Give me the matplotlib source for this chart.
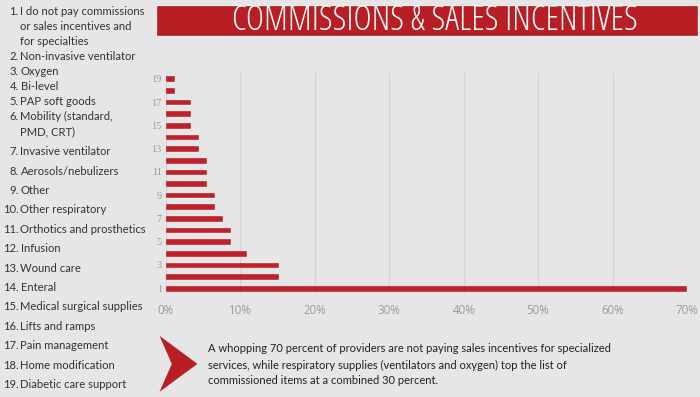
import matplotlib
matplotlib.use("Agg")
import matplotlib.pyplot as plt
from matplotlib.patches import Rectangle, Polygon
import matplotlib.patheffects as pe
from matplotlib import font_manager

# ---------------- data ----------------
title = "COMMISSIONS & SALES INCENTIVES"
items = [
    "I do not pay commissions\nor sales incentives and\nfor specialties",
    "Non-invasive ventilator",
    "Oxygen",
    "Bi-level",
    "PAP soft goods",
    "Mobility (standard,\nPMD, CRT)",
    "Invasive ventilator",
    "Aerosols/nebulizers",
    "Other",
    "Other respiratory",
    "Orthotics and prosthetics",
    "Infusion",
    "Wound care",
    "Enteral",
    "Medical surgical supplies",
    "Lifts and ramps",
    "Pain management",
    "Home modification",
    "Diabetic care support",
]
ranks = list(range(1, 20))
values = [69.9, 15.1, 15.1, 10.8, 8.6, 8.6, 7.5, 6.5, 6.5, 5.4,
          5.4, 5.4, 4.3, 4.3, 3.2, 3.2, 3.2, 1.1, 1.1]
ytick_vals = [1, 3, 5, 7, 9, 11, 13, 15, 17, 19]
xtick_vals = [0, 10, 20, 30, 40, 50, 60, 70]
xtick_labels = ["0%", "10%", "20%", "30%", "40%", "50%", "60%", "70%"]
note = ("A whopping 70 percent of providers are not paying sales incentives for specialized\n"
        "services, while respiratory supplies (ventilators and oxygen) top the list of\n"
        "commissioned items at a combined 30 percent.")

# ---------------- layout ----------------
W, H = 700, 397
BG = "#e6e6e6"
RED = "#b81f25"
fig = plt.figure(figsize=(W / 100, H / 100), dpi=100, facecolor=BG)

def fx(x):
    return x / W

def fy(y):
    return 1 - y / H

# pick the lightest condensed sans font (from the known families) for the title
WMAP = {"ultralight": 200, "light": 300, "normal": 400, "regular": 400, "book": 400,
        "medium": 500, "semibold": 600, "demibold": 600, "bold": 700,
        "heavy": 800, "extra bold": 800, "black": 900}
KNOWN = ("Open Sans", "Noto Sans", "Roboto", "DejaVu Sans", "Liberation Sans", "Lato", "Inter")

def wnum(w):
    if isinstance(w, (int, float)):
        return w
    return WMAP.get(str(w).lower(), 400)

cands = []
for f in font_manager.fontManager.ttflist:
    if not f.name.startswith(KNOWN) or "CJK" in f.name or "Mono" in f.name:
        continue
    cond = ("Condensed" in f.name or "Narrow" in f.name or
            f.stretch in ("condensed", "semi-condensed", "extra-condensed"))
    if cond and f.style == "normal":
        w = wnum(f.weight)
        fn = f.fname.lower()
        if "light" in fn and "extralight" not in fn:
            w = min(w, 300)
        if "bold" in fn:
            w = max(w, 700)
        cands.append((abs(w - 300), f.fname))
cands.sort()
title_fname = cands[0][1] if cands else None

# title banner
fig.patches.append(Rectangle((fx(156), fy(35.5)), fx(698) - fx(156), (35.5 - 5) / H,
                             transform=fig.transFigure, facecolor=RED,
                             edgecolor="#f2f2f2", linewidth=0.9, zorder=1))
if title_fname is not None:
    tprops = font_manager.FontProperties(fname=title_fname, size=21)
else:
    tprops = font_manager.FontProperties(family=["Roboto", "DejaVu Sans"],
                                         weight="light", size=18)
t = fig.text(fx(435), fy(20.5), title, ha="center", va="center", color="white",
             fontproperties=tprops, zorder=2)
# fit the title width to the banner text width seen in the reference (~406 px)
fig.canvas.draw()
bb = t.get_window_extent()
t.set_fontsize(t.get_fontsize() * 406 / bb.width)

# chart axes
ax = fig.add_axes([fx(166), fy(294), fx(687) - fx(166), (294 - 73) / H])
ax.set_facecolor(BG)
bars = ax.barh(ranks, values, height=0.4, color="#c0202a", edgecolor="#a8181f",
               linewidth=0.4, zorder=3)
for b in bars:
    b.set_path_effects([pe.SimplePatchShadow(offset=(0.8, -0.8),
                                             shadow_rgbFace="white", alpha=0.9),
                        pe.Normal()])
ax.set_xlim(0, 70)
ax.set_ylim(0.5, 19.5)
ax.set_xticks(xtick_vals)
ax.set_xticklabels(xtick_labels, color="#9a9a9a", fontsize=8.3, family="Open Sans")
ax.set_yticks(ytick_vals)
ax.set_yticklabels([str(v) for v in ytick_vals], color="#9a9a9a", fontsize=7.5,
                   family="Liberation Serif")
ax.tick_params(length=0, pad=3)
ax.tick_params(axis="x", pad=7)
ax.grid(axis="x", color="#d6d6d6", linewidth=1, zorder=0)
ax.set_axisbelow(True)
for s in ax.spines.values():
    s.set_visible(False)

# left legend list
lfont = dict(fontsize=8.1, family=["Lato", "DejaVu Sans"], color="#333333")
y = 11.7
line_h = 15.0
for i, txt in enumerate(items):
    num = f"{ranks[i]}."
    lines = txt.split("\n")
    fig.text(fx(18.5), fy(y), num, ha="right", va="center", **lfont)
    for j, ln in enumerate(lines):
        fig.text(fx(20.5), fy(y + j * line_h), ln, ha="left", va="center", **lfont)
    y += (len(lines) - 1) * line_h
    y += line_h if ranks[i] < 6 else 19.4
    if ranks[i] == 6:
        y += 0.6

# chevron
fig.patches.append(Polygon([(fx(159.5), fy(335.8)), (fx(197.4), fy(363.9)),
                            (fx(159.5), fy(391.9)), (fx(171.8), fy(363.9))],
                           closed=True, transform=fig.transFigure,
                           facecolor=RED, edgecolor="none"))

fig.text(fx(208), fy(343.5), note, ha="left", va="top", color="#222222",
         fontsize=8.0, family=["Lato", "DejaVu Sans"], linespacing=1.55)

fig.savefig("out.png", dpi=100, facecolor=BG)
